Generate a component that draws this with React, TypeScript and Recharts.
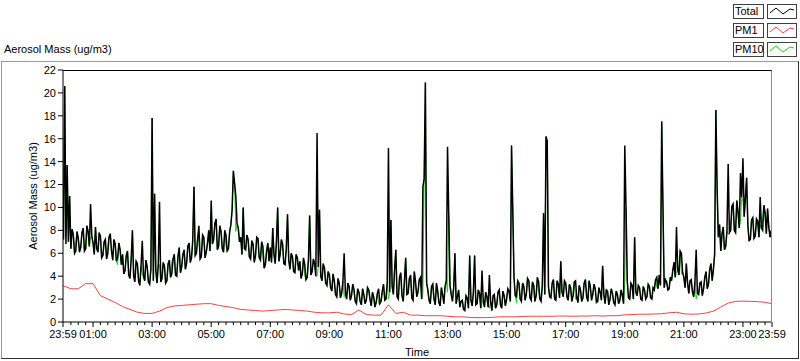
import { LineChart, Line, XAxis, YAxis } from 'recharts'

// Total aerosol mass at the whole 5 minutes, one row per hour (00:00 .. 23:55), then 23:59
const total = [
  7.2, 6.8, 7.0, 6.4, 7.6, 6.2, 7.3, 6.5, 8.2, 6.4, 7.9, 10.3,
  6.9, 8.3, 6.1, 7.5, 5.8, 7.2, 6.0, 7.7, 5.4, 6.8, 5.6, 6.3,
  5.9, 4.5, 6.2, 3.8, 8.0, 3.5, 5.1, 3.2, 7.1, 3.6, 4.8, 3.3,
  17.8, 11.2, 3.4, 10.5, 3.8, 4.9, 3.6, 5.4, 4.2, 5.9, 4.0, 6.5,
  4.8, 6.3, 5.1, 6.9, 5.6, 11.8, 6.0, 8.4, 5.7, 7.4, 6.1, 8.0,
  10.6, 7.2, 9.0, 6.6, 7.9, 6.1, 7.6, 6.4, 8.5, 13.2, 11.0, 8.2,
  7.4, 10.0, 6.3, 7.2, 5.5, 6.8, 5.8, 7.3, 5.4, 6.6, 5.0, 6.9,
  6.5, 8.2, 5.1, 10.0, 5.9, 6.8, 5.0, 9.4, 4.6, 5.7, 4.3, 5.6,
  5.3, 4.2, 5.0, 3.9, 9.3, 4.4, 5.1, 16.5, 9.8, 3.6, 4.7, 3.2,
  4.1, 2.7, 3.6, 2.2, 3.4, 2.5, 6.0, 2.0, 3.1, 2.3, 2.8, 1.6,
  2.6, 1.5, 2.4, 1.9, 2.8, 1.4, 2.2, 1.7, 2.9, 1.8, 3.3, 2.0,
  15.2, 8.9, 2.4, 6.3, 2.0, 4.3, 1.8, 5.6, 2.5, 4.1, 1.9, 3.5,
  2.6, 3.9, 11.8, 20.9, 2.8, 1.6, 3.3, 1.5, 2.7, 1.4, 2.4, 3.1,
  15.3, 3.2, 1.8, 6.0, 2.2, 1.3, 1.9, 1.0, 2.1, 5.8, 1.4, 5.8,
  1.6, 2.5, 4.5, 1.3, 2.2, 4.1, 1.0, 2.4, 1.5, 2.8, 1.2, 2.3,
  2.0, 2.7, 15.4, 3.9, 2.2, 3.4, 1.8, 3.1, 2.4, 3.6, 1.9, 3.2,
  2.3, 3.5, 1.8, 9.5, 16.2, 3.1, 2.1, 3.7, 1.9, 3.3, 5.3, 2.2,
  3.4, 1.9, 3.0, 2.3, 3.6, 1.7, 2.8, 2.1, 3.7, 1.8, 3.1, 2.4,
  2.9, 1.8, 2.6, 4.9, 1.6, 2.7, 2.0, 2.5, 1.5, 2.4, 1.9, 2.3,
  15.4, 3.6, 2.0, 3.2, 7.4, 2.3, 3.0, 1.9, 2.8, 2.2, 3.1, 2.0,
  2.8, 3.9, 4.1, 17.5, 3.0, 3.5, 2.9, 3.6, 5.2, 8.3, 4.1, 6.0,
  3.9, 5.1, 2.5, 3.7, 2.2, 6.3, 2.4, 3.5, 2.9, 4.4, 3.3, 5.1,
  4.6, 18.5, 7.4, 6.2, 8.3, 6.6, 13.8, 8.0, 10.3, 7.8, 9.6, 13.0,
  14.3, 10.8, 8.4, 7.2, 9.1, 7.5, 8.8, 10.9, 8.0, 9.5, 9.9, 7.4,
  7.0,
]

// Total aerosol mass halfway between them (00:02:30 .. 23:57:30)
const totalMid = [
  20.6, 13.7, 11.0, 8.1, 6.0, 7.9, 6.1, 7.8, 6.2, 8.4, 6.6, 7.5,
  5.9, 6.4, 7.8, 5.6, 7.0, 5.5, 7.4, 6.2, 7.2, 5.3, 6.9, 5.0,
  4.2, 5.8, 4.1, 5.5, 4.0, 5.3, 3.6, 4.9, 4.0, 5.4, 3.5, 4.6,
  3.6, 4.5, 5.0, 3.5, 5.2, 3.4, 5.1, 3.9, 5.5, 4.1, 5.7, 4.3,
  5.9, 4.6, 6.6, 5.2, 7.1, 5.8, 7.3, 5.5, 7.6, 5.6, 6.9, 6.2,
  6.8, 8.6, 6.3, 8.4, 6.4, 8.0, 6.2, 7.9, 9.8, 12.1, 8.6, 7.0,
  5.9, 6.4, 7.6, 5.7, 7.1, 5.2, 7.4, 5.6, 7.0, 4.7, 6.2, 5.3,
  5.2, 5.9, 7.0, 5.3, 7.2, 5.1, 6.4, 5.4, 6.0, 4.4, 5.9, 4.5,
  3.8, 5.6, 3.7, 5.4, 4.1, 5.5, 4.0, 4.8, 4.0, 5.1, 3.4, 4.4,
  3.0, 4.2, 2.4, 3.8, 2.1, 3.5, 2.6, 3.4, 1.9, 3.3, 1.8, 2.9,
  1.8, 2.9, 1.6, 3.0, 2.0, 2.6, 1.3, 2.5, 1.6, 2.7, 1.9, 3.4,
  2.6, 3.1, 4.6, 2.2, 3.9, 2.3, 3.6, 2.4, 3.8, 2.1, 4.4, 2.2,
  3.7, 2.0, 12.5, 3.4, 1.9, 3.1, 2.0, 3.4, 1.7, 3.0, 1.6, 3.6,
  9.3, 2.4, 3.0, 1.6, 2.8, 1.8, 1.1, 2.3, 1.2, 1.9, 2.6, 1.5,
  2.8, 1.2, 1.9, 2.6, 1.3, 1.8, 2.3, 1.2, 2.6, 1.5, 2.7, 1.4,
  2.9, 1.8, 9.8, 2.3, 3.6, 2.0, 3.4, 1.9, 3.8, 2.1, 3.5, 1.8,
  3.9, 2.0, 3.2, 2.4, 15.8, 2.2, 3.4, 2.0, 3.6, 2.1, 2.6, 3.6,
  2.2, 3.3, 1.8, 3.5, 2.1, 3.2, 1.8, 3.4, 2.2, 3.6, 1.9, 3.3,
  1.7, 3.0, 1.9, 2.4, 2.8, 1.5, 2.9, 1.7, 2.7, 1.6, 2.8, 1.6,
  10.0, 2.1, 3.4, 2.0, 2.6, 3.2, 2.0, 3.1, 2.0, 3.3, 2.1, 3.0,
  3.7, 2.9, 3.2, 10.2, 3.7, 2.8, 3.9, 4.5, 3.9, 4.6, 6.2, 4.3,
  3.0, 3.4, 3.6, 2.6, 3.5, 2.5, 3.4, 2.3, 3.9, 2.9, 4.6, 3.6,
  5.9, 11.7, 8.5, 7.7, 6.3, 7.9, 7.8, 10.1, 8.0, 10.6, 8.2, 10.9,
  9.2, 12.6, 7.1, 8.9, 7.3, 9.0, 7.4, 8.2, 10.2, 7.7, 8.3, 8.0,
]

// PM10 at the whole 5 minutes; it lies under Total except at a few readings
const pm10 = [
  7.2, 7.5, 7.0, 6.4, 7.6, 7.0, 7.3, 6.5, 8.2, 6.4, 7.9, 7.3,
  6.9, 8.3, 6.1, 7.5, 5.8, 7.2, 6.6, 7.7, 5.4, 6.8, 5.0, 6.3,
  5.9, 4.5, 6.2, 3.8, 8.0, 4.0, 5.1, 3.2, 4.2, 3.6, 4.8, 3.3,
  17.8, 11.2, 3.4, 5.0, 3.8, 4.9, 3.6, 5.4, 5.3, 5.9, 4.0, 6.5,
  4.8, 6.3, 5.1, 6.9, 5.6, 11.8, 6.0, 7.0, 5.7, 7.4, 6.1, 8.0,
  8.5, 7.2, 9.0, 6.6, 7.9, 6.1, 6.6, 6.4, 8.5, 13.2, 7.9, 8.2,
  7.4, 10.0, 6.3, 7.2, 5.5, 6.8, 5.8, 7.3, 5.4, 5.8, 5.0, 6.9,
  6.5, 8.2, 5.1, 10.0, 5.9, 6.8, 5.0, 9.4, 4.6, 5.7, 4.3, 5.6,
  5.3, 4.2, 4.0, 3.9, 9.3, 4.4, 5.1, 4.0, 9.8, 3.6, 4.7, 3.2,
  4.1, 2.7, 3.6, 2.2, 3.4, 2.5, 2.2, 2.0, 3.1, 2.3, 2.8, 1.6,
  2.6, 1.5, 2.4, 1.9, 2.8, 1.4, 2.2, 1.7, 1.6, 1.8, 3.3, 2.0,
  2.0, 8.9, 2.4, 6.3, 2.0, 4.3, 1.8, 5.6, 2.5, 4.1, 1.9, 3.5,
  2.6, 3.9, 2.5, 20.9, 2.8, 1.6, 3.3, 1.5, 2.7, 1.4, 2.4, 3.1,
  2.6, 3.2, 2.5, 6.0, 2.2, 1.3, 1.9, 1.0, 2.1, 5.8, 1.4, 5.8,
  1.6, 2.5, 1.6, 1.3, 2.2, 1.2, 1.0, 2.4, 1.5, 2.8, 1.2, 2.3,
  2.0, 2.7, 15.4, 3.9, 1.7, 3.4, 2.6, 3.1, 2.4, 3.6, 1.9, 3.2,
  2.3, 2.6, 1.8, 9.5, 16.2, 3.1, 2.1, 3.7, 1.9, 3.3, 5.3, 2.2,
  3.4, 1.9, 3.0, 2.3, 2.0, 1.7, 2.8, 2.1, 3.7, 1.8, 3.1, 2.4,
  2.9, 1.8, 2.6, 4.9, 1.6, 2.7, 2.0, 2.5, 1.5, 2.4, 1.9, 2.3,
  3.4, 3.6, 2.0, 3.2, 7.4, 2.3, 3.0, 1.9, 2.8, 2.2, 3.1, 2.0,
  2.8, 3.0, 4.1, 17.5, 3.0, 3.5, 2.9, 3.6, 5.2, 4.3, 4.1, 4.2,
  3.9, 5.1, 2.5, 3.7, 2.2, 2.0, 2.4, 3.5, 2.9, 4.4, 3.3, 5.1,
  4.6, 18.5, 7.4, 6.2, 8.3, 6.6, 7.7, 8.0, 10.3, 7.8, 9.6, 8.8,
  10.5, 10.8, 8.4, 7.2, 9.1, 7.5, 8.8, 8.5, 9.0, 9.5, 9.9, 7.4,
  7.0,
]

// PM10 halfway between them
const pm10Mid = [
  20.6, 13.7, 11.0, 8.1, 6.0, 7.9, 6.1, 7.8, 6.2, 8.4, 6.6, 7.5,
  5.9, 6.4, 7.8, 5.6, 7.0, 5.5, 7.4, 6.2, 7.2, 5.3, 6.9, 5.0,
  4.2, 5.8, 4.1, 5.5, 4.0, 5.3, 3.6, 4.9, 4.0, 5.4, 3.5, 4.6,
  3.6, 4.5, 5.0, 3.5, 5.2, 3.4, 5.1, 3.9, 5.5, 4.1, 5.7, 4.3,
  5.9, 4.6, 6.6, 5.2, 7.1, 5.8, 7.3, 5.5, 7.6, 5.6, 6.9, 6.2,
  6.8, 8.6, 6.3, 8.4, 6.4, 8.0, 6.2, 7.9, 9.8, 12.1, 8.6, 7.0,
  5.9, 6.4, 7.6, 5.7, 7.1, 5.2, 7.4, 5.6, 7.0, 4.7, 6.2, 5.3,
  5.2, 5.9, 7.0, 5.3, 7.2, 5.1, 6.4, 5.4, 6.0, 4.4, 5.9, 4.5,
  3.8, 5.6, 3.7, 5.4, 4.1, 5.5, 4.0, 4.8, 4.0, 5.1, 3.4, 4.4,
  3.0, 4.2, 2.4, 3.8, 2.1, 3.5, 2.6, 3.4, 1.9, 3.3, 1.8, 2.9,
  1.8, 2.9, 1.6, 3.0, 2.0, 2.6, 1.3, 2.5, 1.6, 2.7, 1.9, 3.4,
  2.6, 3.1, 4.6, 2.2, 3.9, 2.3, 3.6, 2.4, 3.8, 2.1, 4.4, 2.2,
  3.7, 2.0, 12.5, 3.4, 1.9, 3.1, 2.0, 3.4, 1.7, 3.0, 1.6, 3.6,
  9.3, 2.4, 3.0, 1.6, 2.8, 1.8, 1.1, 2.3, 1.2, 1.9, 2.6, 1.5,
  2.8, 1.2, 1.9, 2.6, 1.3, 1.8, 2.3, 1.2, 2.6, 1.5, 2.7, 1.4,
  2.9, 1.8, 9.8, 2.3, 3.6, 2.0, 3.4, 1.9, 3.8, 2.1, 3.5, 1.8,
  3.9, 2.0, 3.2, 2.4, 15.8, 2.2, 3.4, 2.0, 3.6, 2.1, 2.6, 3.6,
  2.2, 3.3, 1.8, 3.5, 2.1, 3.2, 1.8, 3.4, 2.2, 3.6, 1.9, 3.3,
  1.7, 3.0, 1.9, 2.4, 2.8, 1.5, 2.9, 1.7, 2.7, 1.6, 2.8, 1.6,
  10.0, 2.1, 3.4, 2.0, 2.6, 3.2, 2.0, 3.1, 2.0, 3.3, 2.1, 3.0,
  3.7, 2.9, 3.2, 10.2, 3.7, 2.8, 3.9, 4.5, 3.9, 4.6, 6.2, 4.3,
  3.0, 3.4, 3.6, 2.6, 3.5, 2.5, 3.4, 2.3, 3.9, 2.9, 4.6, 3.6,
  5.9, 11.7, 8.5, 7.7, 6.3, 7.9, 7.8, 10.1, 8.0, 10.6, 8.2, 10.9,
  9.2, 12.6, 7.1, 8.9, 7.3, 9.0, 7.4, 8.2, 10.2, 7.7, 8.3, 8.0,
]

// PM1, 15-minute readings, one row per hour, then 23:59
const pm1 = [
  3.15, 2.9, 2.9, 3.35,
  3.35, 2.3, 2.0, 1.7,
  1.35, 1.1, 0.85, 0.75,
  0.75, 0.95, 1.25, 1.4,
  1.45, 1.5, 1.55, 1.6,
  1.6, 1.45, 1.35, 1.25,
  1.1, 1.05, 1.0, 0.95,
  1.0, 1.05, 1.1, 1.05,
  1.0, 0.95, 0.85, 0.8,
  0.8, 0.85, 0.7, 0.65,
  1.05, 0.65, 0.6, 0.6,
  1.5, 0.75, 0.85, 0.6,
  0.6, 0.55, 0.55, 0.55,
  0.5, 0.45, 0.45, 0.4,
  0.38, 0.38, 0.4, 0.45,
  0.45, 0.45, 0.48, 0.5,
  0.5, 0.5, 0.5, 0.52,
  0.52, 0.5, 0.52, 0.52,
  0.55, 0.52, 0.55, 0.55,
  0.62, 0.65, 0.68, 0.68,
  0.7, 0.72, 0.8, 0.85,
  0.72, 0.68, 0.7, 0.78,
  0.95, 1.3, 1.65, 1.8,
  1.82, 1.8, 1.78, 1.72,
  1.6,
]

// labelled ticks, minutes after midnight (-1 = 23:59 of the day before)
const majorTicks = [-1, 60, 180, 300, 420, 540, 660, 780, 900, 1020, 1140, 1260, 1380, 1439]
const majorLabels = ['23:59', '01:00', '03:00', '05:00', '07:00', '09:00', '11:00', '13:00', '15:00', '17:00', '19:00', '21:00', '23:00', '23:59']
const yTicks = [0, 2, 4, 6, 8, 10, 12, 14, 16, 18, 20, 22]

const legendItems = [
  { name: 'Total', color: '#000000' },
  { name: 'PM1', color: '#ff4040' },
  { name: 'PM10', color: '#00dd00' },
]

type Row = { t: number; total: number; pm10: number; pm1: number | null }
const rows: Row[] = []
total.forEach((v, i) => {
  rows.push({
    t: i < 288 ? i * 5 : 1439,
    total: v,
    pm10: pm10[i],
    pm1: i % 3 === 0 ? pm1[i / 3] : null,
  })
  if (i < 288) rows.push({ t: i * 5 + 2.5, total: totalMid[i], pm10: pm10Mid[i], pm1: null })
})

const minorTicks: number[] = []
for (let m = 15; m < 1439; m += 15) {
  if (!majorTicks.includes(m)) minorTicks.push(m)
}
const allTicks = [...majorTicks, ...minorTicks].sort((a, b) => a - b)

const FONT = '"Liberation Sans", Arial, sans-serif'

function TimeTick(props: any) {
  const { x, y, payload } = props
  const idx = majorTicks.indexOf(payload.value)
  return (
    <g>
      <line x1={x} x2={x} y1={y} y2={y + (idx >= 0 ? 5 : 3)} stroke="#000" />
      {idx >= 0 && (
        <text x={x} y={y + 16} textAnchor="middle" fontSize={11} fontFamily={FONT} fill="#000">
          {majorLabels[idx]}
        </text>
      )}
    </g>
  )
}

export default function App() {
    return (
        <div
            style={{
                position: 'absolute',
                left: 0,
                top: 0,
                width: 800,
                height: 361,
                background: '#fff',
                fontFamily: FONT,
                fontSize: 11,
                overflow: 'hidden',
            }}
        >
            <div style={{ position: 'absolute', left: 4, top: 43, color: '#000' }}>
                Aerosol Mass (ug/m3)
            </div>

            {legendItems.map((it, i) => (
                <div key={it.name}>
                    <div
                        style={{
                            position: 'absolute',
                            left: 733,
                            top: 4 + i * 19,
                            width: 28,
                            height: 13,
                            border: '1px solid #404040',
                            lineHeight: '13px',
                            paddingLeft: 1,
                            boxSizing: 'content-box',
                        }}
                    >
                        {it.name}
                    </div>
                    <svg
                        width={30}
                        height={15}
                        style={{ position: 'absolute', left: 767, top: 4 + i * 19 }}
                    >
                        <rect x={0.5} y={0.5} width={29} height={14} fill="#fff" stroke="#404040" />
                        <polyline
                            points="3,9 9,4 16,10 23,5 27,6"
                            fill="none"
                            stroke={it.color}
                        />
                    </svg>
                </div>
            ))}

            <div
                style={{
                    position: 'absolute',
                    left: 1,
                    top: 61,
                    width: 796,
                    height: 296,
                    borderTop: '1px solid #9a9a9a',
                    borderLeft: '1px solid #9a9a9a',
                    borderRight: '1px solid #303030',
                    borderBottom: '1px solid #303030',
                }}
            />

            <div style={{ position: 'absolute', left: 0, top: 0 }}>
                <LineChart
                    width={800}
                    height={361}
                    data={rows}
                    margin={{ top: 70, right: 28, bottom: 0, left: 13 }}
                >
                    <XAxis
                        dataKey="t"
                        type="number"
                        domain={[-1, 1439]}
                        ticks={allTicks}
                        interval={0}
                        height={39}
                        tickSize={0}
                        tickMargin={0}
                        tickLine={false}
                        tick={<TimeTick />}
                        axisLine={{ stroke: '#000' }}
                        allowDataOverflow
                    />
                    <YAxis
                        type="number"
                        domain={[0, 22]}
                        ticks={yTicks}
                        interval={0}
                        width={50}
                        tickSize={5}
                        tickMargin={2}
                        tickLine={{ stroke: '#000' }}
                        axisLine={{ stroke: '#000' }}
                        tick={{ fill: '#000', fontSize: 11, fontFamily: FONT }}
                        allowDataOverflow
                    />
                    <Line
                        dataKey="pm10"
                        stroke="#00dd00"
                        strokeWidth={0.9}
                        dot={false}
                        isAnimationActive={false}
                    />
                    <Line
                        dataKey="total"
                        stroke="#000"
                        strokeWidth={1.5}
                        dot={false}
                        isAnimationActive={false}
                    />
                    <Line
                        dataKey="pm1"
                        stroke="#ff4040"
                        strokeWidth={1}
                        dot={false}
                        connectNulls
                        isAnimationActive={false}
                    />
                </LineChart>
            </div>

            <div
                style={{
                    position: 'absolute',
                    left: 63,
                    top: 70,
                    width: 708,
                    height: 252,
                    borderTop: '1px solid #000',
                    borderRight: '1px solid #8a8a8a',
                    pointerEvents: 'none',
                }}
            />

            <div
                style={{
                    position: 'absolute',
                    left: 33,
                    top: 196,
                    transform: 'translate(-50%, -50%) rotate(-90deg)',
                    whiteSpace: 'nowrap',
                }}
            >
                Aerosol Mass (ug/m3)
            </div>

            <div
                style={{
                    position: 'absolute',
                    left: 417,
                    top: 346,
                    transform: 'translateX(-50%)',
                }}
            >
                Time
            </div>
        </div>
    )
}
